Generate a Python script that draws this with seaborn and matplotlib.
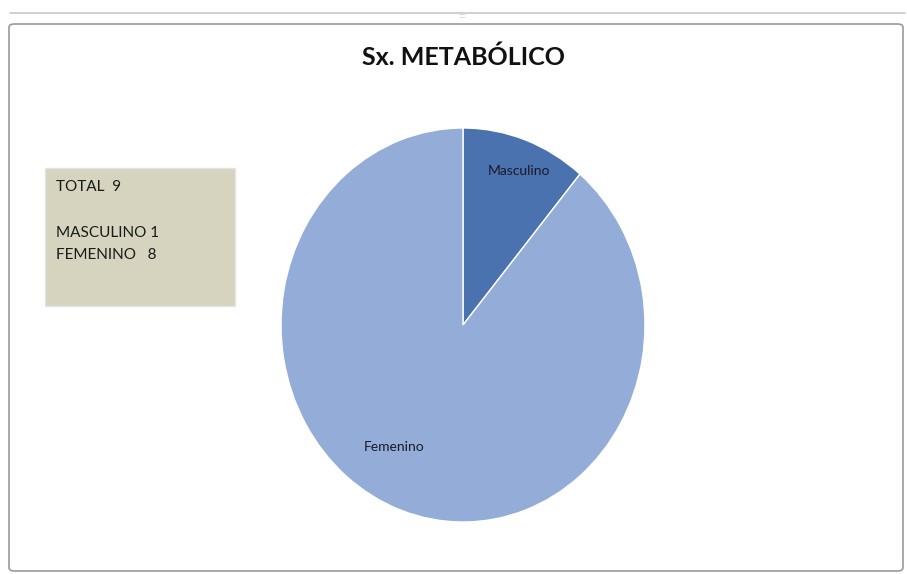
import matplotlib
matplotlib.use("Agg")
import matplotlib.pyplot as plt
from matplotlib.patches import FancyBboxPatch, Rectangle
from matplotlib.lines import Line2D
import seaborn as sns

# data
categories = ["Masculino", "Femenino"]
counts = [1, 8]
colors = ["#4A72AE", "#94ADD8"]
title = "Sx. METABÓLICO"
summary_lines = ["TOTAL  9", "", "MASCULINO 1", "FEMENINO   8"]

sns.set_theme(style="white")
plt.rcParams["font.family"] = ["Lato", "DejaVu Sans"]

W, H = 907, 574
fig = plt.figure(figsize=(W / 100, H / 100), dpi=100)
fig.patch.set_facecolor("white")

# outer window frame (behind everything)
fig.add_artist(Line2D([10 / W, 905 / W], [1 - 13 / H, 1 - 13 / H],
                      transform=fig.transFigure, color="#C8C8C8", lw=1.2,
                      zorder=-5))
fig.add_artist(FancyBboxPatch((9 / W, 3 / H), 894 / W, (571 - 24) / H,
                              boxstyle="round,pad=0,rounding_size=0.006",
                              transform=fig.transFigure, facecolor="white",
                              edgecolor="#9A9A9A", lw=1.2, zorder=-5))
fig.text(463 / W, 1 - 15 / H, "::::", color="#B0B0B0", fontsize=5,
         ha="center", va="center")

# pie (slightly stretched like the original screenshot)
cx, cy, rx, ry = 463, 325, 182, 197
ax = fig.add_axes([(cx - rx) / W, (H - cy - ry) / H, 2 * rx / W, 2 * ry / H])
ax.patch.set_alpha(0)
wedges, texts = ax.pie(counts, labels=categories, colors=colors, startangle=90,
                       counterclock=False, labeldistance=0.78,
                       wedgeprops=dict(edgecolor="white", linewidth=1.0),
                       textprops=dict(fontsize=10, color="#1A1A2A"))
ax.set_aspect("auto")
ax.set_xlim(-1.0, 1.0)
ax.set_ylim(-1.0, 1.0)
ax.axis("off")
# Excel "best fit" label spots
label_pos = [(0.31, 0.78), (-0.38, -0.62)]
for t, p in zip(texts, label_pos):
    t.set_position(p)
    t.set_ha("center")
    t.set_va("center")

# title
fig.text(463 / W, 1 - 57 / H, title, fontsize=18, fontweight="bold",
         color="#111111", ha="center", va="center")

# summary box
fig.add_artist(Rectangle((45 / W, 1 - 306 / H), 190 / W, 138 / H,
                         transform=fig.transFigure, facecolor="#D6D4BF",
                         edgecolor="#E4E4E4", lw=1.0))
fig.text(56 / W, 1 - 180 / H, "\n".join(summary_lines), fontsize=11,
         color="#1A1A1A", ha="left", va="top", linespacing=1.8)

fig.savefig("out.png", dpi=100)
